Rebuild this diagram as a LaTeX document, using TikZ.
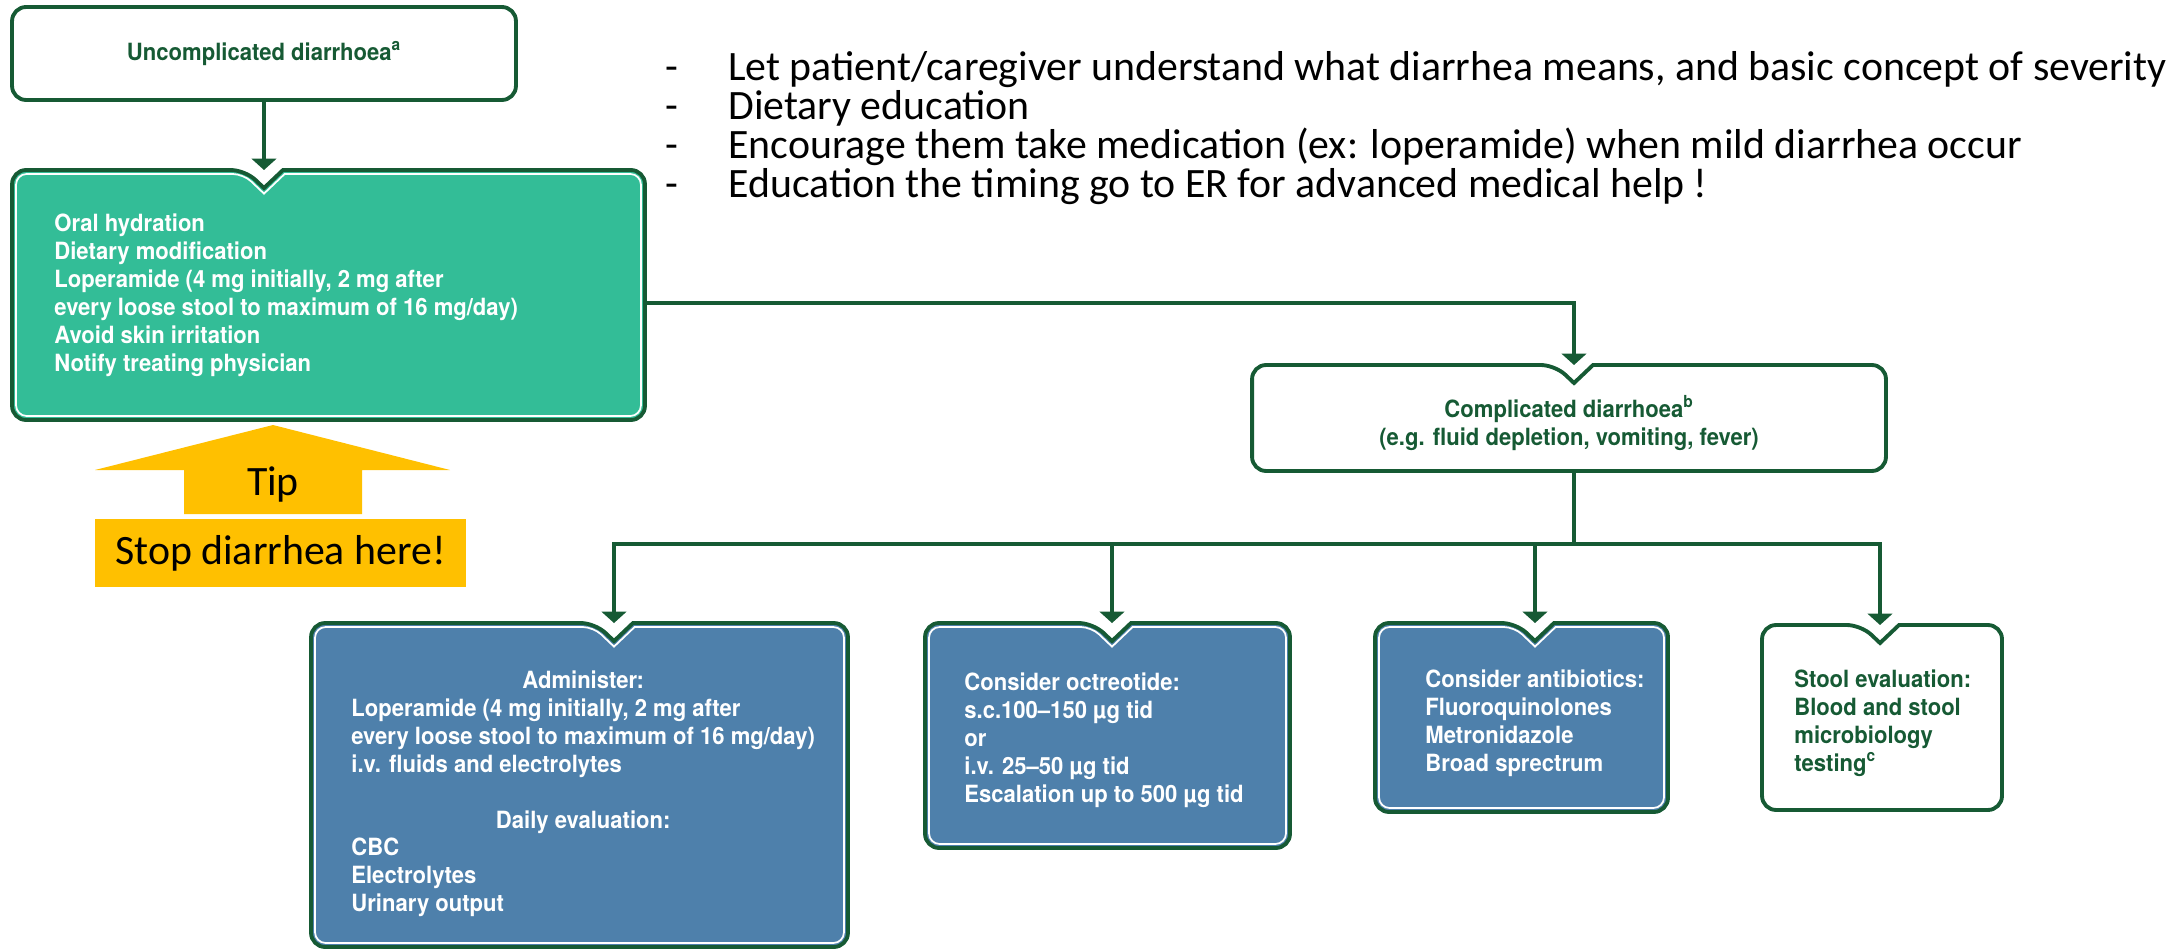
\documentclass[tikz,border=0pt]{standalone}
\usepackage{fontspec}
\setmainfont{Carlito}
\newfontfamily\chartfont[FakeStretch=0.93]{TeX Gyre Heros}
\usetikzlibrary{calc}
\usetikzlibrary{positioning}
\usetikzlibrary{arrows.meta}
\definecolor{chartgreen}{RGB}{22,90,52}
\definecolor{tealfill}{RGB}{51,189,151}
\definecolor{bluefill}{RGB}{78,128,171}
\definecolor{tipyellow}{RGB}{255,192,0}
\newcommand*{\nhw}{19}   % half width of the notch
\newcommand*{\ndp}{18}   % depth of the notch
\newcommand*{\chartsize}{\fontsize{13.5}{15.9}\selectfont}
\newcommand*{\slidesize}{\fontsize{23.8}{22.2}\selectfont}
\newcommand{\dashitem}[1]{\makebox[1.26cm][l]{-}#1}
\newcommand{\notchframe}[3]{%
    \draw [frame, fill=#3]
        ($(#1.north -| #2)+(\nhw,0)$) -- (#1.north east) -- (#1.south east)
        -- (#1.south west) -- (#1.north west) -- ($(#1.north -| #2)+(-\nhw,0)$)
        [sharp corners] -- ($(#1.north -| #2)+(0,\ndp)$) -- cycle;
    \draw [inner frame]
        ($(#1.north -| #2)+(\nhw+1.6,4)$) -- ($(#1.north east)+(-4,4)$) -- ($(#1.south east)+(-4,-4)$)
        -- ($(#1.south west)+(4,-4)$) -- ($(#1.north west)+(4,4)$) -- ($(#1.north -| #2)+(-\nhw-1.6,4)$)
        [sharp corners] -- ($(#1.north -| #2)+(0,\ndp+5.6)$) -- cycle;
}

\begin{document}
\begin{tikzpicture}[x=0.02cm, y=-0.02cm, font=\chartfont\bfseries\chartsize,
        frame/.style={draw=chartgreen, line width=2.2pt, rounded corners=8pt},
        inner frame/.style={draw=white, line width=1pt, rounded corners=6pt},
        boxnode/.style={rectangle, inner sep=0pt, outer sep=0pt},
        txt/.style={inner sep=0pt, align=left},
        conn/.style={draw=chartgreen, line width=2pt},
        arr/.style={conn, -{Triangle[length=6.5pt, width=14pt]}},
        slide/.style={font=\normalfont\slidesize, inner sep=0pt, anchor=base west}]
    \useasboundingbox (0,0) rectangle (2179,949);
    % boxes
    \node (unc) [boxnode, minimum width=10.08cm, minimum height=1.86cm] at (264,53.5) {};
    \node (grn) [boxnode, minimum width=12.66cm, minimum height=5cm] at (328.5,295) {};
    \node (cmp) [boxnode, minimum width=12.68cm, minimum height=2.12cm] at (1569,418) {};
    \node (adm) [boxnode, minimum width=10.74cm, minimum height=6.48cm] at (579.5,785) {};
    \node (oct) [boxnode, minimum width=7.3cm, minimum height=4.5cm] at (1107.5,735.5) {};
    \node (abx) [boxnode, minimum width=5.86cm, minimum height=3.78cm] at (1521.5,717.5) {};
    \node (stl) [boxnode, minimum width=4.8cm, minimum height=3.7cm] at (1882,717.5) {};
    \coordinate (j1) at (1574,303);
    \coordinate (split) at (1574,544);
    \coordinate (a1) at (614,544);
    \coordinate (a2) at (1112,544);
    \coordinate (a3) at (1535,544);
    \coordinate (a4) at (1880,544);
    % frames
    \draw [frame, fill=white] (unc.north west) rectangle (unc.south east);
    \notchframe{grn}{unc.south}{tealfill}
    \notchframe{cmp}{j1}{white}
    \notchframe{adm}{a1}{bluefill}
    \notchframe{oct}{a2}{bluefill}
    \notchframe{abx}{a3}{bluefill}
    \notchframe{stl}{a4}{white}
    % texts
    \node (unctxt) [text=chartgreen] at (unc) {Uncomplicated diarrhoea\textsuperscript{a}};
    \node (grntxt) [txt, text=white, right=0.84cm of grn.west] {Oral hydration\\Dietary modification\\Loperamide (4 mg initially, 2 mg after\\every loose stool to maximum of 16 mg/day)\\Avoid skin irritation\\Notify treating physician};
    \node (cmptxt) [text=chartgreen, align=center, yshift=-0.1cm] at (cmp) {Complicated diarrhoea\textsuperscript{b}\\(e.g. fluid depletion, vomiting, fever)};
    \node (admtxt) [inner sep=0pt, text=white, right=0.8cm of adm.west, yshift=-0.19cm] {\begin{tabular}{@{}l@{}}
        \multicolumn{1}{@{}c@{}}{Administer:}\\
        Loperamide (4 mg initially, 2 mg after\\
        every loose stool to maximum of 16 mg/day)\\
        i.v. fluids and electrolytes\\
        \\
        \multicolumn{1}{@{}c@{}}{Daily evaluation:}\\
        CBC\\
        Electrolytes\\
        Urinary output
    \end{tabular}};
    \node (octtxt) [txt, text=white, right=0.78cm of oct.west, yshift=-0.09cm] {Consider octreotide:\\s.c.100–150 µg tid\\or\\i.v. 25–50 µg tid\\Escalation up to 500 µg tid};
    \node (abxtxt) [txt, text=white, right=1cm of abx.west, yshift=-0.11cm] {Consider antibiotics:\\Fluoroquinolones\\Metronidazole\\Broad sprectrum};
    \node (stltxt) [txt, text=chartgreen, right=0.64cm of stl.west, yshift=-0.11cm] {Stool evaluation:\\Blood and stool\\microbiology\\testing\textsuperscript{c}};
    % connectors
    \draw [arr] (unc.south) -- (unc.south |- grn.north);
    \draw [arr] (grn.east |- j1) -- (j1) -- (j1 |- cmp.north);
    \draw [conn] (split |- cmp.south) -- (split);
    \draw [conn, {Triangle[length=6.5pt, width=14pt]}-{Triangle[length=6.5pt, width=14pt]}] (a1 |- adm.north) -- (a1) -- (a4) -- (a4 |- stl.north);
    \draw [arr] (a2) -- (a2 |- oct.north);
    \draw [arr] (a3) -- (a3 |- abx.north);
    % tip
    \fill [tipyellow] (273,425) -- (450,470) -- (362,470) -- (362,514) -- (184,514) -- (184,470) -- (95,470) -- cycle;
    \node (tip) [font=\normalfont\slidesize, inner sep=0pt, anchor=base] at (273,495) {Tip};
    \node (stop) [fill=tipyellow, minimum width=7.42cm, minimum height=1.36cm, font=\normalfont\slidesize, inner sep=0pt] at (280.5,553) {Stop diarrhea here!};
    % education
    \node (edu1) [slide] at (665,81) {\dashitem{Let patient/caregiver understand what diarrhea means, and basic concept of severity}};
    \node (edu2) [slide] at (665,120) {\dashitem{Dietary education}};
    \node (edu3) [slide] at (665,159) {\dashitem{Encourage them take medication (ex: loperamide) when mild diarrhea occur}};
    \node (edu4) [slide] at (665,198) {\dashitem{Education the timing go to ER for advanced medical help !}};
\end{tikzpicture}
\end{document}
